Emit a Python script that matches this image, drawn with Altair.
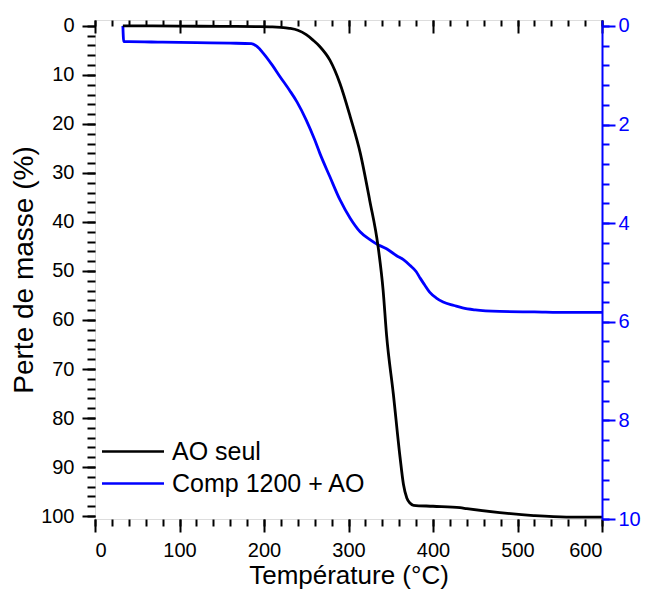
import altair as alt
import pandas as pd

# ---------------- data ----------------
series_names = ["AO seul", "Comp 1200 + AO"]
series_colors = ["#000000", "#0000ff"]

ao_temp = [33, 60, 100, 150, 190, 210, 220, 230, 240, 250, 258, 266, 278, 290,
           302, 314, 325, 335, 341, 345, 353, 361, 365, 369, 373, 377, 400,
           432, 440, 479, 519, 558, 600]
ao_loss = [0.0, 0.0, 0.05, 0.1, 0.15, 0.2, 0.3, 0.5, 0.9, 1.8, 2.9, 4.2, 7.0,
           11.8, 18.5, 26.0, 35.5, 45.0, 54.0, 63.0, 75.0, 88.0, 93.5, 96.3,
           97.4, 97.8, 98.0, 98.3, 98.5, 99.3, 99.9, 100.2, 100.2]

comp_temp = [33, 34, 40, 80, 120, 160, 185, 192, 199, 210, 219, 230, 239, 250,
             260, 266, 278, 290, 302, 314, 325, 333, 345, 357, 365, 373, 380,
             385, 390, 396, 404, 412, 425, 435, 450, 479, 520, 560, 600]
comp_loss = [0.0, 0.32, 0.32, 0.33, 0.34, 0.35, 0.36, 0.42, 0.55, 0.80, 1.03,
             1.30, 1.54, 1.91, 2.31, 2.58, 3.06, 3.53, 3.90, 4.18, 4.33, 4.42,
             4.52, 4.66, 4.74, 4.86, 4.98, 5.12, 5.25, 5.40, 5.52, 5.60, 5.67,
             5.72, 5.76, 5.79, 5.80, 5.81, 5.81]

x_major = [0, 100, 200, 300, 400, 500, 600]
y_left_major = [0, 10, 20, 30, 40, 50, 60, 70, 80, 90, 100]
y_right_major = [0, 2, 4, 6, 8, 10]

x_minor = [v for v in range(0, 601, 20)]
y_left_minor = [v for v in range(0, 101, 2)]
y_right_minor = [round(v * 0.4, 1) for v in range(0, 26)]

df_ao = pd.DataFrame({"T": ao_temp, "v": ao_loss, "s": series_names[0]})
df_comp = pd.DataFrame({"T": comp_temp, "v": comp_loss, "s": series_names[1]})

# ---------------- style ----------------
FONT = "Liberation Sans"
BLUE = "#0000ff"
x_dom = [0, 600]
yl_dom = [-1.2, 100.6]
yr_dom = [-0.12, 10.0]

common = dict(grid=False, labelFont=FONT, titleFont=FONT, titleFontWeight="normal",
              tickWidth=2, domain=False)


def xs(axis):
    return alt.X("T:Q", scale=alt.Scale(domain=x_dom, nice=False, zero=False), axis=axis)


def yl(axis):
    return alt.Y("v:Q", scale=alt.Scale(domain=yl_dom, nice=False, zero=False, reverse=True), axis=axis)


def yr(axis):
    return alt.Y("v:Q", scale=alt.Scale(domain=yr_dom, nice=False, zero=False, reverse=True), axis=axis)


# legend: horizontal line symbol 62px long (custom path scaled by sqrt(size)/2)
legend = alt.Legend(orient="none", legendX=25.5, legendY=419, title=None,
                    symbolType="M-3,0H3", symbolSize=427, symbolStrokeWidth=2.5,
                    labelFont=FONT, labelFontSize=25, labelColor="black",
                    labelOffset=26.5, labelLimit=500, padding=0, rowPadding=6)
color_enc = alt.Color("s:N", scale=alt.Scale(domain=series_names, range=series_colors),
                      legend=legend)

ax_bottom = alt.Axis(orient="bottom", values=x_major, format="d", tickSize=13,
                     tickColor="black", labelFontSize=20, labelColor="black",
                     labelPadding=8, title="Température (°C)", titleFontSize=26,
                     titleColor="black", titleBaseline="alphabetic", titleY=64.5,
                     **common)
ax_bottom_minor = alt.Axis(orient="bottom", values=x_minor, tickSize=7, tickColor="black",
                           labels=False, title=None, **common)
ax_top = alt.Axis(orient="top", values=x_major, tickSize=13, offset=-13, tickColor="black",
                  labels=False, title=None, **common)
ax_top_minor = alt.Axis(orient="top", values=x_minor, tickSize=6, offset=-6, tickColor="black",
                        labels=False, title=None, **common)

ax_left = alt.Axis(orient="left", values=y_left_major, format="d", tickSize=13,
                   tickColor="black", labelFontSize=20, labelColor="black",
                   labelPadding=8, title="Perte de masse (%)", titleFontSize=28,
                   titleColor="black", titlePadding=2, **common)
ax_left_minor = alt.Axis(orient="left", values=y_left_minor, tickSize=8, tickColor="black",
                         labels=False, title=None, **common)

common_r = dict(common)
common_r["domain"] = True
ax_right = alt.Axis(orient="right", values=y_right_major, format="d", tickSize=13,
                    tickColor=BLUE, labelFontSize=20, labelColor=BLUE, labelPadding=3,
                    domainColor=BLUE, domainWidth=2, title=None, zindex=1, **common_r)
ax_right_minor = alt.Axis(orient="right", values=y_right_minor, tickSize=7, tickColor=BLUE,
                          labels=False, title=None, zindex=1, **common)

base_ao = alt.Chart(df_ao)
base_comp = alt.Chart(df_comp)

ao_line = base_ao.mark_line(strokeWidth=2.8, interpolate="monotone").encode(
    x=xs(ax_bottom), y=yl(ax_left), color=color_enc)
ao_minor = base_ao.mark_line(opacity=0).encode(x=xs(ax_bottom_minor), y=yl(ax_left_minor))
top_major = base_ao.mark_line(opacity=0).encode(x=xs(ax_top), y=yl(None))
top_minor = base_ao.mark_line(opacity=0).encode(x=xs(ax_top_minor), y=yl(None))
comp_line = base_comp.mark_line(strokeWidth=2.8, interpolate="monotone").encode(
    x=xs(None), y=yr(ax_right), color=color_enc)
comp_minor = base_comp.mark_line(opacity=0).encode(x=xs(None), y=yr(ax_right_minor))

chart = alt.layer(
    ao_minor, top_major, top_minor, comp_minor, comp_line, ao_line
).resolve_scale(
    x="independent", y="independent"
).properties(
    width=507, height=499,
    autosize=alt.AutoSizeParams(type="none"),
    padding={"left": 87, "top": 12, "right": 39, "bottom": 70},
).configure_view(
    stroke="black", strokeWidth=2
).configure(background="white")

chart.save("out.html", embed_options={"renderer": "svg", "actions": False})
